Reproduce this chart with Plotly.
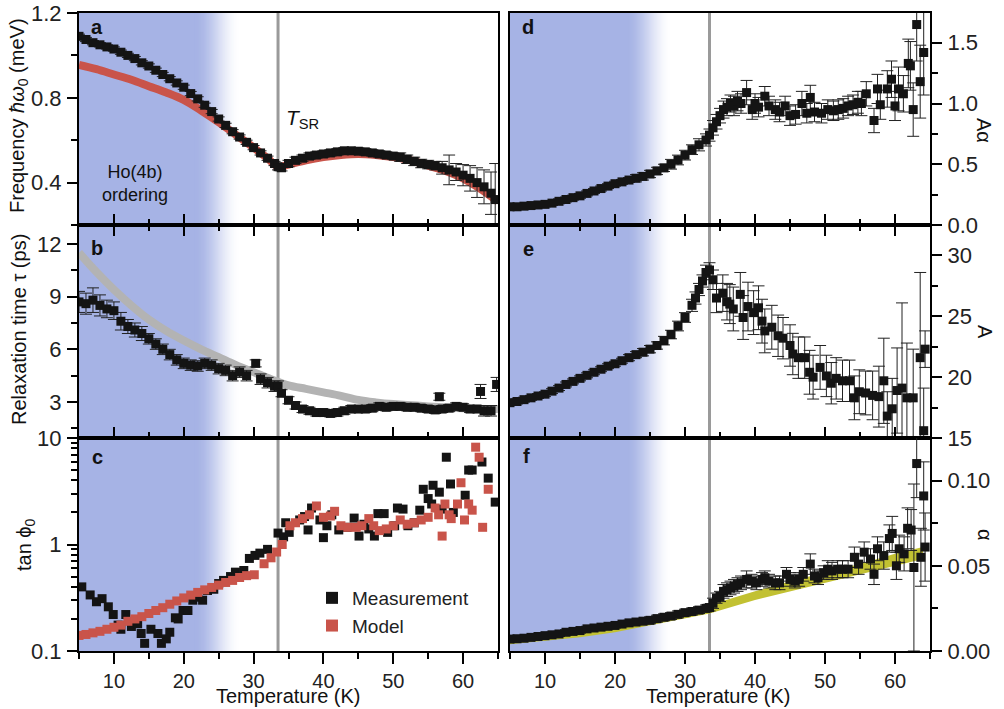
import math
import plotly.graph_objects as go

# ---------------- data ----------------
# panel a: frequency (meV)
Ta = [5,6,7,8,9,10,11,12,13,14, 15,16,17,18,19,20,21,22,23,24, 25,26,27,28,29,30,31,32,33,33.5,
      34,35,36,37,38,39,40,41,42,43, 44,45,46,47,48,49,50,51,52,53, 54,55,56,57,58,59,60,61,62,63, 64,64.6]
Va = [1.09,1.075,1.06,1.05,1.04,1.03,1.015,1.0,0.985,0.965, 0.95,0.93,0.91,0.89,0.87,0.85,0.82,0.795,0.765,0.735,
      0.70,0.67,0.64,0.615,0.59,0.565,0.54,0.515,0.49,0.475,
      0.47,0.49,0.505,0.515,0.525,0.53,0.535,0.54,0.545,0.55, 0.55,0.548,0.545,0.54,0.535,0.53,0.525,0.52,0.51,0.50,
      0.49,0.485,0.48,0.47,0.46,0.45,0.435,0.42,0.40,0.38, 0.35,0.32]
Ea = [0.01]*29 + [0.015]*18 + [0.02]*6 + [0.03,0.07,0.04,0.05,0.06,0.07,0.08,0.10,0.17]
Ta_model = [5,7.5,10,12.5,15,17.5,20,22.5,25,27.5,30,32,33.5,35,37.5,40,42.5,45,47.5,50,52.5,55,57.5,60,62.5,65]
Va_model = [0.955,0.935,0.91,0.885,0.855,0.825,0.79,0.74,0.685,0.625,0.565,0.515,0.475,0.485,0.505,0.52,0.53,0.535,
            0.53,0.52,0.505,0.48,0.455,0.42,0.37,0.31]

# panel b: relaxation time (ps)
Tb = [5,6,7,8,9,10,11,12,13,14, 15,16,17,18,19,20,21,22,23,24, 25,26,27,28,29,30.3,31,32,33,33.5,
      34,35,36,37,38,39,40,41,42,43, 44,45,46,47,48,49,50,51,52,53, 54,55,56,56.6,57,58,59,60,61,62, 62.5,63,64,64.8]
Vb = [8.7,8.6,8.8,8.5,8.3,8.2,7.6,7.3,7.1,6.9, 6.6,6.3,6.0,5.7,5.4,5.2,5.1,5.05,5.2,5.1,
      4.9,4.8,4.5,4.7,4.5,5.2,4.3,4.1,3.9,3.9,
      3.5,3.1,2.8,2.6,2.5,2.4,2.4,2.35,2.4,2.5, 2.6,2.6,2.6,2.65,2.75,2.7,2.75,2.75,2.7,2.7,
      2.65,2.6,2.55,3.3,2.6,2.65,2.75,2.7,2.6,2.6, 3.6,2.5,2.5,4.0]
Eb = [0.6,0.6,0.7,0.6,0.5,0.5,0.5,0.4,0.4,0.4, 0.3,0.3,0.3,0.3,0.3,0.3,0.3,0.3,0.3,0.3,
      0.3,0.3,0.3,0.3,0.3,0.2,0.3,0.3,0.3,0.3,
      0.2,0.2,0.2,0.2,0.2,0.2,0.2,0.2,0.2,0.2, 0.2,0.2,0.2,0.2,0.2,0.2,0.2,0.2,0.2,0.2,
      0.2,0.2,0.2,0.2,0.2,0.2,0.2,0.2,0.2,0.2, 0.4,0.3,0.3,0.4]
Tb_model = [5,7.5,10,12.5,15,17.5,20,22.5,25,27.5,30,32.5,35,37.5,40,42.5,45,47.5,50,55,60,65]
Vb_model = [11.5,10.4,9.4,8.5,7.7,7.05,6.5,6.0,5.55,5.1,4.7,4.3,3.95,3.75,3.55,3.35,3.12,2.98,2.88,2.75,2.65,2.6]

# panel c: tan phi0
Tc = [5.4,6.6,7.5,8.3,9.2,9.9,10.6,11,11.7,12.5,13.4,13.9,14.4,15.3,16.3,16.8,17.5,18,18.8,19.2,19.9,20.6,
      21.3,22,22.7,23.4,24.3,25,25.7,26.7,27.4,28.6,29.4,30.2,30.9,32,33.5,34.3,34.6,35.1,36.6,37.3,37.8,38.3,
      39.5,40,40.5,41.2,42.2,43.4,44.4,45.1,45.8,46.5,47.3,47.8,48.7,49.2,50.2,50.6,51.4,52.1,53,53.8,54.3,
      55,55.5,55.7,56.6,57,57.6,58.2,58.6,60.3,60.8,61.3,62.7,63.6,64.6]
Vc = [0.40,0.336,0.29,0.31,0.26,0.22,0.175,0.16,0.22,0.17,0.18,0.146,0.118,0.16,0.146,0.118,0.13,0.15,0.205,0.2,
      0.24,0.24,0.30,0.32,0.30,0.37,0.38,0.43,0.46,0.50,0.55,0.57,0.74,0.79,0.83,0.90,1.28,1.18,1.6,1.3,1.7,
      1.83,1.37,2.2,1.7,1.16,1.5,1.9,1.37,1.45,1.77,1.2,1.55,1.4,1.2,1.95,1.95,1.3,1.5,2.2,2.15,1.5,1.6,2.1,
      3.3,2.7,2.4,3.6,3.1,2.15,6.6,3.7,2.0,2.9,5.0,5.0,5.95,4.2,2.5]
Tc_model = [5,6,7,8,9,10,11,12,13,14,15,16,17,18,19,20,21,22,23,24,25,26,27,28,29,30.1,31.5,32.5,33.3,34.1,
            35.2,36,37,38,39,40,41,41.6,42.5,43.5,44.7,45.5,46.5,47.2,48,49,50,51,52,53,54,55,56,56.5,57,57.4,
            58,58.3,59.2,59.7,60.2,60.8,61.3,61.8,62.3,62.8,63.6]
Vc_model = [0.14,0.143,0.148,0.153,0.16,0.167,0.175,0.19,0.2,0.21,0.225,0.24,0.255,0.275,0.295,0.315,0.335,
            0.355,0.375,0.395,0.415,0.44,0.46,0.49,0.51,0.52,0.66,0.75,0.85,1.0,1.5,1.6,1.75,1.9,2.3,1.8,1.85,
            2.05,1.5,1.45,1.45,1.5,1.75,1.5,1.35,1.4,1.5,1.7,1.55,1.6,1.7,1.8,2.2,1.9,1.2,2.4,1.9,1.75,2.4,3.8,
            1.7,2.4,2.1,8.2,6.6,1.45,3.3]

# panel d: A*alpha
Td = [5,6,7,8,9,10,11,12,13,14, 15,16,17,18,19,20,21,22,23,24, 25,26,27,28,29,30,31,32,33,33.5,
      34,34.5,35,35.5,36,36.5,37,37.5,38,38.8, 39.6,40,40.5,41.4,42,42.9,43.5,44.3,45,45.8,
      46.7,47.4,47.9,48.5,49.5,50.4,51.2,51.9,52.6,53.3, 54,54.7,55.2,55.9,57,57.5,57.9,58.9,59.5,60,
      60.5,61.2,61.9,62.2,62.6,63.1,63.6,64.1]
Vd = [0.15,0.15,0.155,0.16,0.165,0.17,0.18,0.195,0.21,0.225, 0.24,0.26,0.28,0.30,0.32,0.34,0.355,0.37,0.385,0.40,
      0.42,0.445,0.47,0.50,0.535,0.575,0.62,0.66,0.70,0.74,
      0.80,0.85,0.90,0.95,0.97,1.0,0.98,1.02,1.0,1.09, 0.95,1.0,0.97,1.06,0.98,0.95,0.93,0.98,0.90,0.91,
      1.0,0.92,1.05,0.93,0.92,0.95,0.94,0.95,0.96,0.98, 0.99,1.01,1.0,1.08,0.86,1.12,0.99,1.12,1.2,0.98,
      1.12,1.08,1.33,1.31,0.95,1.65,1.18,1.42]
Ed = [0.02,0.02,0.02,0.02,0.02,0.02,0.02,0.02,0.02,0.02, 0.02,0.02,0.02,0.02,0.02,0.02,0.02,0.02,0.03,0.03,
      0.03,0.03,0.03,0.04,0.04,0.04,0.04,0.05,0.05,0.05,
      0.06,0.06,0.06,0.07,0.07,0.07,0.08,0.08,0.08,0.1, 0.08,0.08,0.08,0.08,0.08,0.08,0.08,0.08,0.08,0.08,
      0.1,0.08,0.1,0.08,0.08,0.08,0.08,0.08,0.08,0.08, 0.08,0.09,0.1,0.1,0.1,0.12,0.12,0.15,0.15,0.12,
      0.18,0.15,0.2,0.2,0.22,0.3,0.3,0.35]

# panel e: A
Te = [5,6,7,8,9,10,11,12,13,14, 15,16,17,18,19,20,21,22,23,24, 25,26,27,28,29,30,31,31.5,32,32.5,
      33,33.5,34,34.5,35.4,36,36.4,36.9,37.9,38.3, 39,39.8,40.5,41,41.4,42.4,43.3,44,45,45.4,
      46.2,47.1,47.8,48.3,49.3,50.2,50.9,51.6,52.5,53.5, 54.2,54.9,55.8,56.8,57.7,58.4,58.9,59.6,60.3,61,
      61.7,62.6,63.6,64.1,64.3]
Ve = [17.9,18.0,18.15,18.3,18.45,18.6,18.85,19.1,19.4,19.65, 19.9,20.15,20.4,20.65,20.9,21.1,21.35,21.6,21.85,22.05,
      22.3,22.6,23.0,23.5,24.2,24.9,25.9,26.5,27.2,27.9,
      28.6,28.8,28.0,26.5,26.9,26.2,26.0,25.6,26.8,24.9, 25.8,25.3,25.7,24.6,23.8,24.1,23.4,23.2,22.6,21.9,
      21.6,21.6,20.4,20.0,20.8,20.1,19.5,19.9,19.7,19.7, 18.3,18.8,18.7,18.5,18.4,19.7,16.8,17.4,18.9,19.1,
      18.3,18.3,21.6,15.6,22.3]
Ee = [0.2,0.2,0.2,0.2,0.2,0.2,0.2,0.2,0.2,0.2, 0.2,0.2,0.2,0.2,0.2,0.2,0.2,0.25,0.25,0.3,
      0.3,0.3,0.35,0.35,0.4,0.4,0.5,0.5,0.5,0.5,
      0.6,0.6,0.8,1.2,1.5,1.5,1.6,1.8,1.8,1.8, 2.0,1.8,1.8,1.8,1.8,1.8,1.7,1.7,1.7,1.7,
      1.7,1.7,1.8,1.8,1.8,1.7,1.7,1.7,1.7,1.7, 1.8,1.8,1.8,2.0,2.5,3.5,2.0,2.5,3.5,7.0,
      4.5,4.0,7.0,3.5,1.5]

# panel f: alpha
Tf = [5,6,7,8,9,10,11,12,13,14, 15,16,17,18,19,20,21,22,23,24, 25,26,27,28,29,30,31,32,33,33.5,
      34,34.5,35,35.5,36,36.5,37,37.5,38,38.8, 39.5,40.2,41,41.4,42,42.9,43.5,44.5,45,45.7,
      46.3,46.9,47.9,48.5,49,49.8,50.4,51,51.8,52.5, 53.3,54.2,54.8,55.6,56.5,57,57.5,58.4,59.2,59.6,
      60.2,60.6,61.3,61.8,62.3,62.7,63.1,63.7,64.1,64.3]
Vf = [0.007,0.0072,0.0075,0.008,0.0085,0.009,0.0095,0.010,0.011,0.0115, 0.012,0.013,0.0135,0.014,0.0145,0.015,
      0.0158,0.0165,0.017,0.0175, 0.018,0.019,0.0198,0.0205,0.0215,0.0225,0.0232,0.024,0.025,0.0255,
      0.028,0.031,0.032,0.035,0.036,0.037,0.038,0.039,0.040,0.042, 0.041,0.040,0.042,0.043,0.041,0.040,0.040,
      0.045,0.042,0.041, 0.042,0.045,0.051,0.044,0.043,0.046,0.048,0.047,0.048,0.048,
      0.048,0.055,0.051,0.058,0.054,0.045,0.060,0.056,0.066,0.069, 0.050,0.060,0.057,0.072,0.071,0.049,0.110,
      0.055,0.091,0.061]
Ef = [0.0015]*20 + [0.002]*10 + [0.003,0.003,0.003,0.004,0.004,0.004,0.004,0.004,0.004,0.005,
      0.004,0.004,0.004,0.004,0.004,0.004,0.004,0.004,0.004,0.004, 0.004,0.004,0.006,0.004,0.004,0.004,0.005,
      0.005,0.005,0.005, 0.005,0.006,0.006,0.006,0.006,0.006,0.007,0.008,0.008,0.010,
      0.008,0.008,0.010,0.012,0.012,0.049,0.020,0.017,0.020,0.020]
Tf_model = [5,10,15,20,25,30,33.5,40,45,50,55,60,64]
Vf_model_lo = [0.004,0.006,0.008,0.011,0.015,0.019,0.022,0.030,0.035,0.040,0.045,0.050,0.054]
Vf_model_hi = [0.007,0.009,0.0115,0.0145,0.0185,0.0235,0.027,0.035,0.041,0.046,0.051,0.057,0.061]

# ---------------- figure ----------------
W, H = 1004, 709
FONT = "Arial, 'Liberation Sans', sans-serif"
BLACK = "#141414"
RED = "#c9544a"
GREYM = "#b3b3b3"
YEL = "#c2c132"

fig = go.Figure()

def meas(T, V, E, xa, ya, name=None, legend=False, color=BLACK):
    err = None
    if E is not None:
        err = dict(type="data", array=E, color="#222", thickness=1, width=6)
    fig.add_trace(go.Scatter(x=T, y=V, mode="markers", xaxis=xa, yaxis=ya, name=name,
                             showlegend=legend, error_y=err,
                             marker=dict(symbol="square", size=9, color=color, line=dict(width=0))))

# a
fig.add_trace(go.Scatter(x=Ta_model, y=Va_model, mode="lines", line=dict(color=RED, width=8, shape="spline"),
                         xaxis="x", yaxis="y", showlegend=False))
meas(Ta, Va, Ea, "x", "y")
# b
fig.add_trace(go.Scatter(x=Tb_model, y=Vb_model, mode="lines", line=dict(color=GREYM, width=8, shape="spline"),
                         xaxis="x2", yaxis="y2", showlegend=False))
meas(Tb, Vb, Eb, "x2", "y2")
# c
meas(Tc, Vc, None, "x3", "y3", name="Measurement", legend=True)
meas(Tc_model, Vc_model, None, "x3", "y3", name="Model", legend=True, color=RED)
# d
meas(Td, Vd, Ed, "x4", "y4")
# e
meas(Te, Ve, Ee, "x5", "y5")
# f
fig.add_trace(go.Scatter(x=Tf_model, y=Vf_model_lo, mode="lines", line=dict(width=0, color=YEL),
                         xaxis="x6", yaxis="y6", showlegend=False))
fig.add_trace(go.Scatter(x=Tf_model, y=Vf_model_hi, mode="lines", line=dict(width=0, color=YEL),
                         fill="tonexty", fillcolor=YEL, xaxis="x6", yaxis="y6", showlegend=False))
meas(Tf, Vf, Ef, "x6", "y6")

XL = [79 / W, 498 / W]
XR = [510 / W, 930 / W]
ROWS = [[1 - 225 / H, 1 - 13 / H], [1 - 438 / H, 1 - 225 / H], [1 - 651 / H, 1 - 438 / H]]
tickfont = dict(family=FONT, size=22, color="#222")
xtickfont = dict(family=FONT, size=20, color="#222")

def xax(domain, anchor, ticks, mirror, labels):
    return dict(domain=domain, anchor=anchor, range=[5, 65], tick0=0, dtick=10,
                ticks=ticks, ticklen=11, tickwidth=1.5, tickcolor="black",
                minor=dict(tick0=0, dtick=5, ticklen=6, tickwidth=1.5, tickcolor="black", ticks=ticks),
                showline=True, linecolor="black", linewidth=2, mirror=mirror,
                showgrid=False, zeroline=False, showticklabels=labels, tickfont=xtickfont,
                ticklabelstandoff=0, automargin=False)

def topax(domain, anchor, overlay):
    return dict(domain=domain, anchor=anchor, overlaying=overlay, side="top", range=[5, 65], tick0=0, dtick=10,
                ticks="inside", ticklen=11, tickwidth=1.5, tickcolor="black",
                minor=dict(tick0=0, dtick=5, ticklen=6, tickwidth=1.5, tickcolor="black", ticks="inside"),
                showline=False, showgrid=False, zeroline=False, showticklabels=False, automargin=False)

def yax(domain, anchor, rng, dtick, minor_dtick, side="left", fmt=None):
    d = dict(domain=domain, anchor=anchor, range=rng, tick0=0, dtick=dtick, side=side,
             ticks="outside", ticklen=10, tickwidth=1.5, tickcolor="black",
             minor=dict(tick0=0, dtick=minor_dtick, ticklen=6, tickwidth=1.5, tickcolor="black", ticks="outside"),
             showline=True, linecolor="black", linewidth=2, mirror=True,
             showgrid=False, zeroline=False, tickfont=tickfont, ticklabelstandoff=1, automargin=False)
    if fmt:
        d["tickformat"] = fmt
    return d

layout = dict(
    width=W, height=H, margin=dict(l=0, r=0, t=0, b=0, autoexpand=False),
    paper_bgcolor="white", plot_bgcolor="rgba(0,0,0,0)",
    font=dict(family=FONT, color="#222"),
    xaxis=xax(XL, "y", "inside", True, False),
    xaxis2=xax(XL, "y2", "inside", "ticks", False),
    xaxis3=xax(XL, "y3", "outside", True, True),
    xaxis4=xax(XR, "y4", "inside", True, False),
    xaxis5=xax(XR, "y5", "inside", "ticks", False),
    xaxis6=xax(XR, "y6", "outside", True, True),
    xaxis7=topax(XL, "y3", "x3"),
    xaxis8=topax(XR, "y6", "x6"),
    yaxis=yax(ROWS[0], "x", [0.2, 1.2], 0.4, 0.2, fmt=".1f"),
    yaxis2=yax(ROWS[1], "x2", [0.95, 13.08], 3, 1.5),
    yaxis3=dict(domain=ROWS[2], anchor="x3", type="log", range=[-1, 1], dtick=1,
                ticks="outside", ticklen=10, tickwidth=1.5, tickcolor="black",
                minor=dict(tickmode="array", tickvals=[0.2,0.3,0.4,0.5,0.6,0.7,0.8,0.9,2,3,4,5,6,7,8,9],
                           ticklen=6, tickwidth=1.5, tickcolor="black", ticks="outside"),
                showline=True, linecolor="black", linewidth=2, mirror=True,
                showgrid=False, zeroline=False, tickfont=tickfont, ticklabelstandoff=1, automargin=False),
    yaxis4=yax(ROWS[0], "x4", [0, 1.745], 0.5, 0.25, side="right", fmt=".1f"),
    yaxis5=yax(ROWS[1], "x5", [15, 32.5], 5, 2.5, side="right"),
    yaxis6=yax(ROWS[2], "x6", [0, 0.125], 0.05, 0.025, side="right", fmt=".2f"),
    legend=dict(x=312 / W, y=1 - 579 / H, xanchor="left", yanchor="top", bgcolor="rgba(0,0,0,0)",
                font=dict(family=FONT, size=19, color="#222"), itemsizing="constant",
                traceorder="normal", tracegroupgap=0),
)
fig.update_layout(**layout)

# blue shading (Ho(4b) ordering) and T_SR line
BLUE = (166, 179, 229)
shapes = []
for xr, yr in [("x", "y"), ("x2", "y2"), ("x3", "y3"), ("x4", "y4"), ("x5", "y5"), ("x6", "y6")]:
    shapes.append(dict(type="rect", xref=xr, yref=yr + " domain", x0=5, x1=22.5, y0=0, y1=1,
                       fillcolor="rgb(%d,%d,%d)" % BLUE, line=dict(width=0), layer="below"))
    N = 45
    for i in range(N):
        t0 = 21.5 + 6.7 * i / N
        t1 = 21.5 + 6.7 * (i + 1) / N + 0.12
        f = (i + 0.5) / N
        f = 0.5 - 0.5 * math.cos(math.pi * f)
        c = tuple(int(round(BLUE[k] + (255 - BLUE[k]) * f)) for k in range(3))
        shapes.append(dict(type="rect", xref=xr, yref=yr + " domain", x0=t0, x1=t1, y0=0, y1=1,
                           fillcolor="rgb(%d,%d,%d)" % c, line=dict(width=0), layer="below"))
    shapes.append(dict(type="line", xref=xr, yref=yr + " domain", x0=33.5, x1=33.5, y0=0, y1=1,
                       line=dict(color="#9a9a9a", width=3), layer="below"))
fig.update_layout(shapes=shapes)

ann = []
def pa(text, x, y, size=20, angle=0, bold=False, xanchor="center", yanchor="middle"):
    if bold:
        text = "<b>" + text + "</b>"
    ann.append(dict(text=text, xref="paper", yref="paper", x=x / W, y=1 - y / H, showarrow=False,
                    textangle=angle, xanchor=xanchor, yanchor=yanchor,
                    font=dict(family=FONT, size=size, color="#111")))

for lab, x, y in [("a", 97, 27), ("b", 97, 248), ("c", 97, 457), ("d", 528, 27), ("e", 528, 249), ("f", 526, 456)]:
    pa(lab, x, y, size=20, bold=True)

pa("Frequency <i>ħω</i><sub>0</sub> (meV)", 19, 116, size=20, angle=-90)
pa("Relaxation time τ (ps)", 19, 330, size=20, angle=-90)
pa("tan ϕ<sub>0</sub>", 25, 545, size=20, angle=-90)
pa("Aα", 984, 130, size=20, angle=90)
pa("A", 985, 332, size=20, angle=90)
pa("α", 985, 535, size=20, angle=90)
pa("Temperature (K)", 288, 696, size=20)
pa("Temperature (K)", 718, 696, size=20)
pa("<i>T</i><sub>SR</sub>", 284, 119, size=21, xanchor="left")
pa("Ho(4b)<br>ordering", 135, 183, size=18)
fig.update_layout(annotations=ann)

fig.write_html("out.html")
